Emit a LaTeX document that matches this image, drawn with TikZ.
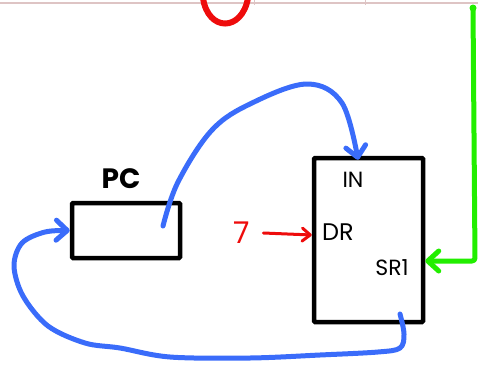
\documentclass[tikz,border=0pt]{standalone}
\usepackage{fontspec}
\setmainfont{Poppins}
\usepackage{tikz}
\usetikzlibrary{arrows.meta,positioning,calc}

\definecolor{penblue}{RGB}{58,108,250}
\definecolor{pengreen}{RGB}{34,238,0}
\definecolor{penred}{RGB}{238,12,12}
\definecolor{rulepink}{RGB}{222,196,196}

\begin{document}
\begin{tikzpicture}[x=1pt, y=-1pt,
    regbox/.style={draw=black, line width=4.5pt, rounded corners=1pt,
      minimum width=109pt, minimum height=164pt, inner sep=0pt},
    pcbox/.style={draw=black, line width=4.5pt, rounded corners=1pt,
      minimum width=108pt, minimum height=55pt, inner sep=0pt},
    tag/.style={font=\fontsize{22}{22}\selectfont, inner sep=0pt},
    pen/.style={line width=5pt, line cap=round, line join=round},
    barb/.style={-{Straight Barb[length=11pt, width=20pt, round]}},
    >=Stealth
  ]
  \useasboundingbox (0,0) rectangle (478,364);
  \clip (0,0) rectangle (478,364);

  % --- page rule at the top ---
  \draw[rulepink, line width=1.5pt] (0,3) -- (478,3);
  \foreach \tx in {201,254,365}
    \draw[rulepink, line width=1pt] (\tx,0) -- (\tx,5);

  % --- red stroke hanging from the top ---
  \draw[penred, line width=6pt, line cap=round]
    (203,-2) .. controls (208,32) and (242,32) .. (248,-2);

  % --- boxes ---
  \node[pcbox] (pc) at (126,230.5) {};
  \node[regbox] (reg) at (368.5,240) {};

  % --- labels ---
  \node[font=\bfseries\fontsize{28}{28}\selectfont, inner sep=0pt] (pclabel) at (121,179) {PC};
  \node[tag] (in) at (353,180) {IN};
  \node[tag, font=\fontsize{24}{24}\selectfont] (dr) at (338,232) {DR};
  \node[tag] (sr) at (392,268) {SR1};
  \node[text=penred, font=\fontsize{30}{30}\selectfont, inner sep=0pt] (seven) at (242,233) {7};

  % --- connector points ---
  \coordinate (pcout) at (163,226);
  \coordinate (regout) at (400,314);
  \coordinate (gtop) at (473,8);
  \coordinate (gturn) at (475,261);

  % --- 7 into DR ---
  \draw[penred, line width=3pt, line cap=round,
        -{Straight Barb[length=8pt, width=13pt, round]}]
    ([xshift=13pt]seven.east) -- (reg.west |- 0,235);

  % --- PC out to IN ---
  \draw[penblue, pen, barb] plot[smooth, tension=0.6] coordinates
    {(pcout) (178,182) (212,130) (252,103) (307,84) (342,103) ([xshift=-10.5pt, yshift=-4pt]reg.north)};

  % --- register back round to PC ---
  \draw[penblue, pen, barb] plot[smooth, tension=0.55] coordinates
    {(regout) (404,334) (400,348) (378,352) (320,355) (250,358) (170,357)
     (120,348) (85,343) (48,326) (23,296) (14,266) (22,243) (45,232) (pc.west)};

  % --- green feed into SR1 ---
  \fill[pengreen] (gtop) circle (3.5pt);
  \draw[pengreen, pen, rounded corners=3pt, -{Straight Barb[length=11pt, width=20pt, round]}]
    (gtop) -- (gturn) -- (reg.east |- gturn);
\end{tikzpicture}
\end{document}
